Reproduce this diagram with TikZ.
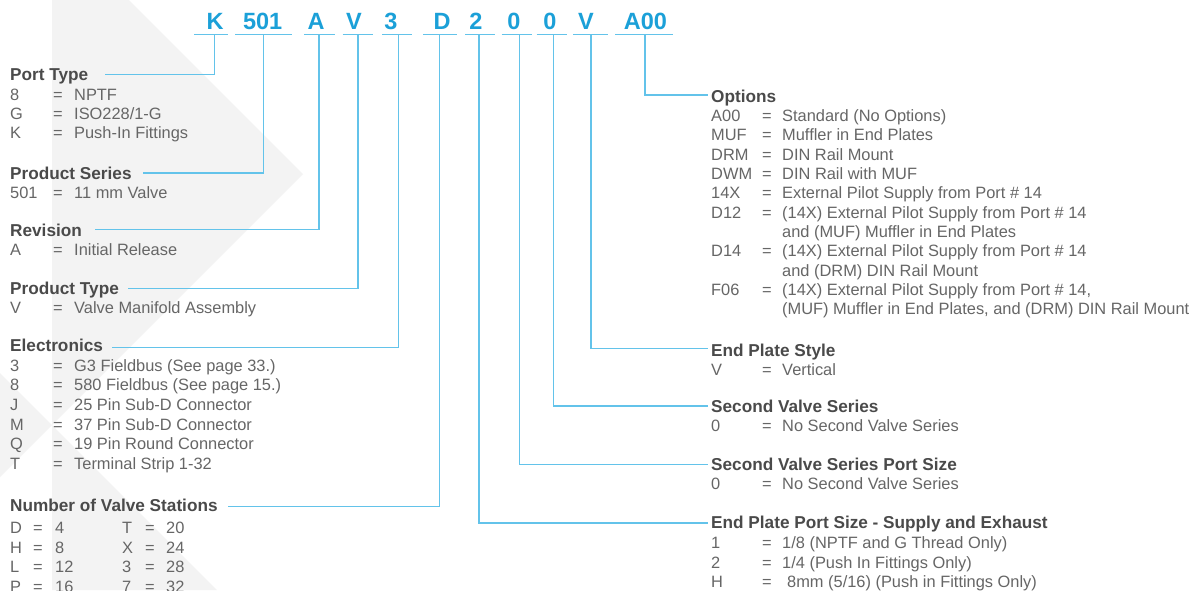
\documentclass[tikz,border=0pt]{standalone}
\usepackage{fontspec}
\setmainfont{Liberation Sans}
\definecolor{codeblue}{HTML}{1BA0D8}
\definecolor{lineblue}{HTML}{63C3EA}
\definecolor{headgray}{HTML}{4A4A4A}
\definecolor{bodygray}{HTML}{666666}
\definecolor{bggray}{HTML}{F3F3F3}
\newcommand{\kvL}[2]{\makebox[43pt][l]{#1}\makebox[21pt][l]{=}#2}
\newcommand{\kvR}[2]{\makebox[51pt][l]{#1}\makebox[20pt][l]{=}#2}
\newcommand{\nvsrow}[4]{\makebox[23pt][l]{#1}\makebox[22pt][l]{=}\makebox[67pt][l]{#2}\makebox[23pt][l]{#3}\makebox[21pt][l]{=}#4}
\begin{document}
\begin{tikzpicture}[x=1pt,y=-1pt,
 code/.style={anchor=base, text=codeblue, font=\fontsize{23.5}{24}\selectfont\bfseries, inner sep=0pt},
 head/.style={anchor=base west, text=headgray, font=\fontsize{17.2}{20}\selectfont\bfseries, inner sep=0pt},
 body/.style={anchor=base west, text=bodygray, font=\fontsize{16.4}{20}\selectfont, inner sep=0pt},
 link/.style={draw=lineblue, line width=1.6pt},
]
\useasboundingbox (0,0) rectangle (1194,590);
\clip (0,0) rectangle (1194,590);
\fill[white] (0,0) rectangle (1194,590);
% background chevrons
\fill[bggray] (52,0) -- (129,0) -- (303,174) -- (52,425) -- cycle;
\fill[bggray] (0,373) -- (52,425) -- (0,477) -- cycle;
\fill[bggray] (52,425) -- (217,590) -- (52,590) -- cycle;

% code letters
\node[code] (cK)   at (215,29.3) {K};
\node[code] (c501) at (262.7,29.3) {501};
\node[code] (cA)   at (316,29.3) {A};
\node[code] (cV)   at (354,29.3) {V};
\node[code] (c3)   at (391,29.3) {3};
\node[code] (cD)   at (442,29.3) {D};
\node[code] (c2)   at (476,29.3) {2};
\node[code] (c0a)  at (514,29.3) {0};
\node[code] (c0b)  at (550,29.3) {0};
\node[code] (cV2)  at (586,29.3) {V};
\node[code] (cA00) at (645.5,29.3) {A00};

% underlines
\draw[link] (194,34.3) -- (228,34.3);
\draw[link] (235,34.3) -- (292,34.3);
\draw[link] (304,34.3) -- (335,34.3);
\draw[link] (342.7,34.3) -- (372.7,34.3);
\draw[link] (382,34.3) -- (412.3,34.3);
\draw[link] (423,34.3) -- (456.7,34.3);
\draw[link] (465,34.3) -- (495,34.3);
\draw[link] (501.7,34.3) -- (531.7,34.3);
\draw[link] (536.7,34.3) -- (566.7,34.3);
\draw[link] (573,34.3) -- (608.3,34.3);
\draw[link] (615,34.3) -- (673.3,34.3);

\coordinate (uK) at (214.3,34.3);
\coordinate (u501) at (263.3,34.3);
\coordinate (uA) at (319,34.3);
\coordinate (uV) at (357.7,34.3);
\coordinate (u3) at (398.3,34.3);
\coordinate (uD) at (439.3,34.3);
\coordinate (u2) at (479,34.3);
\coordinate (u0a) at (519.3,34.3);
\coordinate (u0b) at (553.3,34.3);
\coordinate (uV2) at (590.7,34.3);
\coordinate (uA00) at (645,34.3);

% line ends
\coordinate (ePort) at (105,74.3);
\coordinate (eSeries) at (143,173);
\coordinate (eRev) at (95,229.5);
\coordinate (eType) at (128,288.5);
\coordinate (eElec) at (112,347.5);
\coordinate (eNum) at (227.7,506.5);
\coordinate (eOpt) at (708,95);
\coordinate (eEPS) at (708,348.3);
\coordinate (eSVS) at (708,406);
\coordinate (eSVP) at (708,464.3);
\coordinate (eEPP) at (708,522.7);

\draw[link] (uK) |- (ePort);
\draw[link] (u501) |- (eSeries);
\draw[link] (uA) |- (eRev);
\draw[link] (uV) |- (eType);
\draw[link] (u3) |- (eElec);
\draw[link] (uD) |- (eNum);
\draw[link] (uA00) |- (eOpt);
\draw[link] (uV2) |- (eEPS);
\draw[link] (u0b) |- (eSVS);
\draw[link] (u0a) |- (eSVP);
\draw[link] (u2) |- (eEPP);

% left column
\node[head] (hPort) at (10,80.9) {Port Type};
\node[body] (p1) at (10,100.4) {\kvL{8}{NPTF}};
\node[body] (p2) at (10,119.6) {\kvL{G}{ISO228/1-G}};
\node[body] (p3) at (10,138.8) {\kvL{K}{Push-In Fittings}};

\node[head] (hSeries) at (10,179.2) {Product Series};
\node[body] (s1) at (10,198.4) {\kvL{501}{11 mm Valve}};

\node[head] (hRev) at (10,236.5) {Revision};
\node[body] (r1) at (10,255.9) {\kvL{A}{Initial Release}};

\node[head] (hType) at (10,294.7) {Product Type};
\node[body] (t1) at (10,313.5) {\kvL{V}{Valve Manifold Assembly}};

\node[head] (hElec) at (10,351.7) {Electronics};
\node[body] (e1) at (10,371.1) {\kvL{3}{G3 Fieldbus (See page 33.)}};
\node[body] (e2) at (10,390.8) {\kvL{8}{580 Fieldbus (See page 15.)}};
\node[body] (e3) at (10,410.5) {\kvL{J}{25 Pin Sub-D Connector}};
\node[body] (e4) at (10,430.2) {\kvL{M}{37 Pin Sub-D Connector}};
\node[body] (e5) at (10,449.9) {\kvL{Q}{19 Pin Round Connector}};
\node[body] (e6) at (10,469.6) {\kvL{T}{Terminal Strip 1-32}};

\node[head] (hNum) at (10,511.2) {Number of Valve Stations};
\node[body] (n1) at (10,533.4) {\nvsrow{D}{4}{T}{20}};
\node[body] (n2) at (10,553.1) {\nvsrow{H}{8}{X}{24}};
\node[body] (n3) at (10,572.8) {\nvsrow{L}{12}{3}{28}};
\node[body] (n4) at (10,592.5) {\nvsrow{P}{16}{7}{32}};

% right column
\node[head] (hOpt) at (711,102.9) {Options};
\node[body] (o1) at (711,121.6) {\kvR{A00}{Standard (No Options)}};
\node[body] (o2) at (711,140.9) {\kvR{MUF}{Muffler in End Plates}};
\node[body] (o3) at (711,160.2) {\kvR{DRM}{DIN Rail Mount}};
\node[body] (o4) at (711,179.5) {\kvR{DWM}{DIN Rail with MUF}};
\node[body] (o5) at (711,198.8) {\kvR{14X}{External Pilot Supply from Port \# 14}};
\node[body] (o6) at (711,218.1) {\kvR{D12}{(14X) External Pilot Supply from Port \# 14}};
\node[body] (o6b) at (782,237.4) {and (MUF) Muffler in End Plates};
\node[body] (o7) at (711,256.7) {\kvR{D14}{(14X) External Pilot Supply from Port \# 14}};
\node[body] (o7b) at (782,276.0) {and (DRM) DIN Rail Mount};
\node[body] (o8) at (711,295.3) {\kvR{F06}{(14X) External Pilot Supply from Port \# 14,}};
\node[body] (o8b) at (782,314.6) {(MUF) Muffler in End Plates, and (DRM) DIN Rail Mount};

\node[head] (hEPS) at (711,356.2) {End Plate Style};
\node[body] (v1) at (711,375.2) {\kvR{V}{Vertical}};

\node[head] (hSVS) at (711,412.2) {Second Valve Series};
\node[body] (sv1) at (711,431.9) {\kvR{0}{No Second Valve Series}};

\node[head] (hSVP) at (711,470.5) {Second Valve Series Port Size};
\node[body] (sp1) at (711,489.9) {\kvR{0}{No Second Valve Series}};

\node[head] (hEPP) at (711,528.9) {End Plate Port Size - Supply and Exhaust};
\node[body] (ep1) at (711,548.6) {\kvR{1}{1/8 (NPTF and G Thread Only)}};
\node[body] (ep2) at (711,568.2) {\kvR{2}{1/4 (Push In Fittings Only)}};
\node[body] (ep3) at (711,587.6) {\kvR{H}{\hspace{5pt}8mm (5/16) (Push in Fittings Only)}};
\end{tikzpicture}
\end{document}
